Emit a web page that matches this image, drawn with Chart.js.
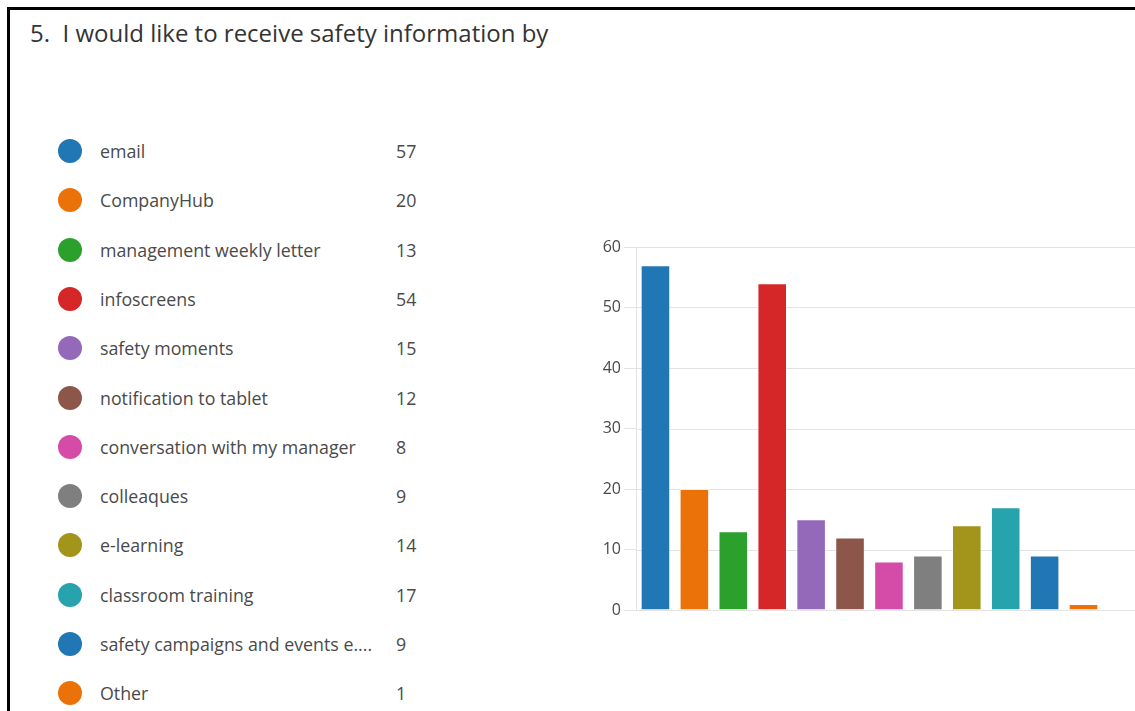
<!DOCTYPE html>
<html>
<head>
<meta charset="utf-8">
<script src="https://cdn.jsdelivr.net/npm/chart.js@4"></script>
<style>
  html, body { margin: 0; padding: 0; background: #fff; overflow: hidden; }
  body { width: 1135px; height: 711px; position: relative; font-family: "Open Sans", "Noto Sans", sans-serif; }
  .frame { position: absolute; left: 7px; top: 7px; right: -10px; bottom: -10px; border-left: 3px solid #000; border-top: 3px solid #000; }
  .title { position: absolute; left: 30px; top: 16px; font-size: 24px; color: #333; white-space: nowrap; }
  .legend-row { position: absolute; left: 58px; height: 24px; }
  .legend-row .dot { position: absolute; left: 0; top: 0; width: 24px; height: 24px; border-radius: 50%; }
  .legend-row .lbl { position: absolute; left: 42px; top: 0; line-height: 24px; font-size: 17.8px; color: #4a4a4a; white-space: nowrap; }
  .legend-row .cnt { position: absolute; left: 338px; top: 0; line-height: 24px; font-size: 17.8px; color: #4a4a4a; }
  #chartBox { position: absolute; left: 580px; top: 230px; width: 555px; height: 400px; }
</style>
</head>
<body>
<div class="frame"></div>
<div class="title">5.&nbsp; I would like to receive safety information by</div>
<div id="legend"></div>
<div id="chartBox"><canvas id="chart"></canvas></div>
<script>
// Survey answers
const categories = [
  'email', 'CompanyHub', 'management weekly letter', 'infoscreens',
  'safety moments', 'notification to tablet', 'conversation with my manager',
  'colleaques', 'e-learning', 'classroom training',
  'safety campaigns and events e....', 'Other'
];
const counts = [57, 20, 13, 54, 15, 12, 8, 9, 14, 17, 9, 1];
const barColors = [
  '#2077b4', '#ea7209', '#2ca02c', '#d62728', '#9469b9', '#8c564b',
  '#d44ba8', '#7f7f7f', '#a3941b', '#27a3ad', '#2077b4', '#ea7209'
];
const yTicks = [0, 10, 20, 30, 40, 50, 60];

// Legend list on the left
const legend = document.getElementById('legend');
categories.forEach((name, i) => {
  const row = document.createElement('div');
  row.className = 'legend-row';
  row.style.top = (139 + i * 49.3) + 'px';
  row.innerHTML = '<div class="dot" style="background:' + barColors[i] + '"></div>' +
    '<div class="lbl">' + name + '</div><div class="cnt">' + counts[i] + '</div>';
  legend.appendChild(row);
});

// Grid lines drawn across the plot and on to the right edge
const extendGrid = {
  id: 'extendGrid',
  beforeDatasetsDraw(chart) {
    const { ctx, chartArea, scales } = chart;
    ctx.save();
    ctx.strokeStyle = '#e3e3e3';
    ctx.lineWidth = 1;
    yTicks.forEach(v => {
      const y = Math.round(scales.y.getPixelForValue(v)) + 0.5;
      ctx.beginPath();
      ctx.moveTo(chartArea.left, y);
      ctx.lineTo(chart.width, y);
      ctx.stroke();
    });
    ctx.restore();
  }
};

new Chart(document.getElementById('chart').getContext('2d'), {
  type: 'bar',
  data: {
    labels: categories,
    datasets: [{
      data: counts,
      backgroundColor: barColors,
      borderColor: 'rgba(255, 255, 255, 0.45)',
      borderWidth: 1,
      categoryPercentage: 1,
      barPercentage: 0.76
    }]
  },
  options: {
    responsive: true,
    maintainAspectRatio: false,
    animation: false,
    layout: { padding: { top: 17, right: 32, bottom: 20, left: 0 } },
    plugins: { legend: { display: false }, tooltip: { enabled: false } },
    scales: {
      x: { display: false },
      y: {
        min: 0,
        max: 60,
        afterFit(scale) { scale.width = 56; },
        afterBuildTicks(scale) { scale.ticks = yTicks.map(v => ({ value: v })); },
        grid: { color: '#e3e3e3', tickLength: 12, drawTicks: true, drawOnChartArea: false },
        border: { color: '#e3e3e3' },
        ticks: {
          color: '#4a4a4a',
          padding: 3,
          font: { family: '"Open Sans", "Noto Sans", sans-serif', size: 16 }
        }
      }
    }
  },
  plugins: [extendGrid]
});
</script>
</body>
</html>
